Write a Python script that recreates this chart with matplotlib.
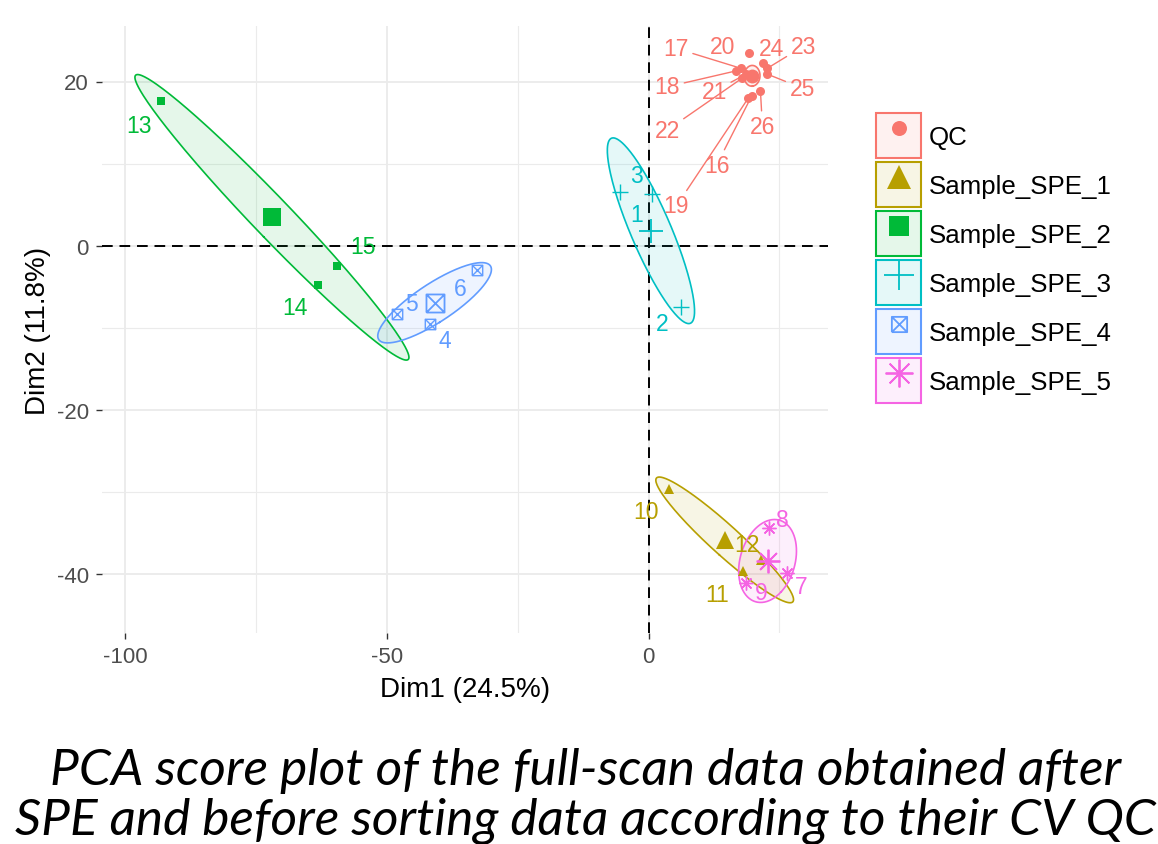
import numpy as np
import matplotlib
matplotlib.use("Agg")
import matplotlib.pyplot as plt
from matplotlib.path import Path
from matplotlib.patches import Patch
from matplotlib.lines import Line2D
from matplotlib.ticker import FixedLocator

# ------------------------------------------------------------------ data
groups = ["QC", "Sample_SPE_1", "Sample_SPE_2", "Sample_SPE_3", "Sample_SPE_4", "Sample_SPE_5"]

qc_ids = ["16", "17", "18", "19", "20", "21", "22", "23", "24", "25", "26"]
qc_dim1 = [19.7, 17.7, 16.8, 19.1, 19.3, 18.7, 17.9, 22.7, 21.8, 22.7, 21.4]
qc_dim2 = [18.2, 21.6, 21.3, 18.0, 23.5, 20.9, 20.4, 21.6, 22.3, 20.9, 18.9]

spe1_ids = ["10", "11", "12"]
spe1_dim1 = [4.0, 18.1, 21.6]
spe1_dim2 = [-29.6, -39.6, -38.2]

spe2_ids = ["13", "14", "15"]
spe2_dim1 = [-93.3, -63.2, -59.5]
spe2_dim2 = [17.6, -4.8, -2.4]

spe3_ids = ["1", "2", "3"]
spe3_dim1 = [0.6, 6.3, -5.5]
spe3_dim2 = [6.3, -7.4, 6.6]

spe4_ids = ["4", "5", "6"]
spe4_dim1 = [-41.8, -48.1, -32.8]
spe4_dim2 = [-9.5, -8.3, -3.0]

spe5_ids = ["7", "8", "9"]
spe5_dim1 = [26.5, 23.1, 18.7]
spe5_dim2 = [-39.8, -34.3, -41.0]

x_ticks = [-100, -50, 0]
y_ticks = [-40, -20, 0, 20]
x_minor = [-75, -25, 25]
y_minor = [-30, -10, 10]
x_title = "Dim1 (24.5%)"
y_title = "Dim2 (11.8%)"
caption_lines = ["PCA score plot of the full-scan data obtained after",
                 "SPE and before sorting data according to their CV QC"]

# ------------------------------------------------------------------ style / layout
colors = ["#F8766D", "#B79F00", "#00BA38", "#00BFC4", "#619CFF", "#F564E3"]

# boxed X marker (R pch 7)
boxx = Path([(-1, -1), (1, -1), (1, 1), (-1, 1), (-1, -1), (-1, -1), (1, 1), (-1, 1), (1, -1)],
            [Path.MOVETO, Path.LINETO, Path.LINETO, Path.LINETO, Path.LINETO,
             Path.MOVETO, Path.LINETO, Path.MOVETO, Path.LINETO])
asterisk = (8, 2, 0)

markers = ["o", "^", "s", "+", boxx, asterisk]
filled = [True, True, True, False, False, False]
ms_small = [6.5, 7.5, 6, 11, 7.5, 10]
ms_big = [10, 12.5, 13, 17, 13, 17]
ms_leg = [10.8, 17, 15, 21, 11, 20]

# label offsets in pixels (dx right, dy up) relative to the point
label_off = {
    "16": (-35, -69), "17": (-65, 20), "18": (-69, -16), "19": (-72, -108),
    "20": (-27, 6), "21": (-32, -17), "22": (-75, -52), "23": (36, 22),
    "24": (9, 14), "25": (35, -14), "26": (2, -36),
    "10": (-23, -23), "11": (-26, -23), "12": (-15, 15),
    "13": (-22, -24), "14": (-23, -22), "15": (26, 19),
    "1": (-15, -20), "2": (-19, -17), "3": (17, 16),
    "4": (15, -17), "5": (15, 10), "6": (-17, -18),
    "7": (14, -14), "8": (13, 8), "9": (15, -10),
}

W, H = 1158, 845
plt.rcParams["font.family"] = ["Liberation Sans", "DejaVu Sans"]
plt.rcParams["axes.unicode_minus"] = False
fig = plt.figure(figsize=(W / 100, H / 100), dpi=100)
ax = fig.add_axes([102 / W, 1 - 634 / H, (828 - 102) / W, (634 - 27) / H])

xlim = ((102 - 648.5) / 5.23, (828 - 648.5) / 5.23)
ylim = ((246.8 - 634) / 8.215, (246.8 - 27) / 8.215)
ax.set_xlim(*xlim)
ax.set_ylim(*ylim)

for s in ax.spines.values():
    s.set_visible(False)
ax.set_xticks(x_ticks)
ax.set_yticks(y_ticks)
ax.xaxis.set_minor_locator(FixedLocator(x_minor))
ax.yaxis.set_minor_locator(FixedLocator(y_minor))
ax.grid(True, which="major", color="#EBEBEB", lw=1.3, zorder=0)
ax.grid(True, which="minor", color="#EBEBEB", lw=0.8, zorder=0)
ax.set_axisbelow(True)
ax.tick_params(which="major", length=4.5, width=1.0, color="#333333", pad=5,
               labelsize=16, labelcolor="#4D4D4D")
ax.tick_params(which="minor", length=0)
ax.set_xlabel(x_title, fontsize=20, labelpad=6)
ax.set_ylabel(y_title, fontsize=20, labelpad=4)

ax.axhline(0, color="black", lw=1.4, ls=(0, (5.5, 3.5)), zorder=1)
ax.axvline(0, color="black", lw=1.4, ls=(0, (5.5, 3.5)), zorder=1)

all_ids = [qc_ids, spe1_ids, spe2_ids, spe3_ids, spe4_ids, spe5_ids]
all_x = [qc_dim1, spe1_dim1, spe2_dim1, spe3_dim1, spe4_dim1, spe5_dim1]
all_y = [qc_dim2, spe1_dim2, spe2_dim2, spe3_dim2, spe4_dim2, spe5_dim2]

r95 = np.sqrt(-2 * np.log(0.05))
t = np.linspace(0, 2 * np.pi, 300)

for gi in range(len(groups)):
    x = np.asarray(all_x[gi], float)
    y = np.asarray(all_y[gi], float)
    col = colors[gi]
    pts = np.column_stack([x, y])
    n = len(pts)
    c = pts.mean(axis=0)
    cov = np.cov(pts.T) / n
    vals, vecs = np.linalg.eigh(cov)
    circ = np.column_stack([np.cos(t), np.sin(t)]) * np.sqrt(np.maximum(vals, 0)) * r95
    e = circ @ vecs.T + c
    ax.fill(e[:, 0], e[:, 1], facecolor=col, alpha=0.1, edgecolor="none", zorder=2)
    ax.plot(e[:, 0], e[:, 1], color=col, lw=1.2, zorder=2.1)

for gi in range(len(groups)):
    x = np.asarray(all_x[gi], float)
    y = np.asarray(all_y[gi], float)
    col = colors[gi]
    fc = col if filled[gi] else "none"
    ax.plot(x, y, ls="none", marker=markers[gi], ms=ms_small[gi], mfc=fc, mec=col,
            mew=1.0 if not filled[gi] else 0, zorder=3)
    ax.plot([x.mean()], [y.mean()], ls="none", marker=markers[gi], ms=ms_big[gi], mfc=fc,
            mec=col, mew=1.3 if not filled[gi] else 0, zorder=3.2)
    for xi, yi, lab in zip(x, y, all_ids[gi]):
        dx, dy = label_off[lab]
        seg = np.hypot(dx, dy) > 35.5
        ax.annotate(lab, (xi, yi), xytext=(dx, dy), textcoords="offset pixels",
                    ha="center", va="center", fontsize=16.5, color=col, zorder=4,
                    arrowprops=dict(arrowstyle="-", color=col, lw=1.0, shrinkA=1, shrinkB=3)
                    if seg else None)

# legend
handles = []
for gi in range(len(groups)):
    col = colors[gi]
    fc = col if filled[gi] else "none"
    p = Patch(facecolor=matplotlib.colors.to_rgba(col, 0.1), edgecolor=col, lw=1.5)
    m = Line2D([], [], ls="none", marker=markers[gi], ms=ms_leg[gi], mfc=fc, mec=col,
               mew=1.3 if not filled[gi] else 0)
    handles.append((p, m))
leg_fs = 18.6
em = leg_fs * 100 / 72
key_px = 45
hh = (key_px / em - 0.245) / 0.65
fig.legend(handles, groups, loc="upper left", bbox_to_anchor=(876 / W, 1 - 114 / H),
           frameon=False, borderpad=0, borderaxespad=0, fontsize=leg_fs,
           handlelength=key_px / em, handleheight=hh,
           labelspacing=4 / em, handletextpad=8 / em)

# caption
targets = [(47, 1120), (17, 1155)]
baselines = [785, 835]
cap_texts = []
for line, bl in zip(caption_lines, baselines):
    tx = fig.text(586 / W, 1 - bl / H, line, ha="center", va="baseline",
                  fontsize=30, family=["Lato", "DejaVu Sans"], style="italic", color="black")
    cap_texts.append(tx)
renderer = fig.canvas.get_renderer()
ratios = []
for tx, (a, b) in zip(cap_texts, targets):
    w = tx.get_window_extent(renderer).width
    ratios.append((b - a) / w)
fs = 30 * float(np.mean(ratios))
for tx in cap_texts:
    tx.set_fontsize(fs)

fig.savefig("out.png", dpi=100, facecolor="white")
